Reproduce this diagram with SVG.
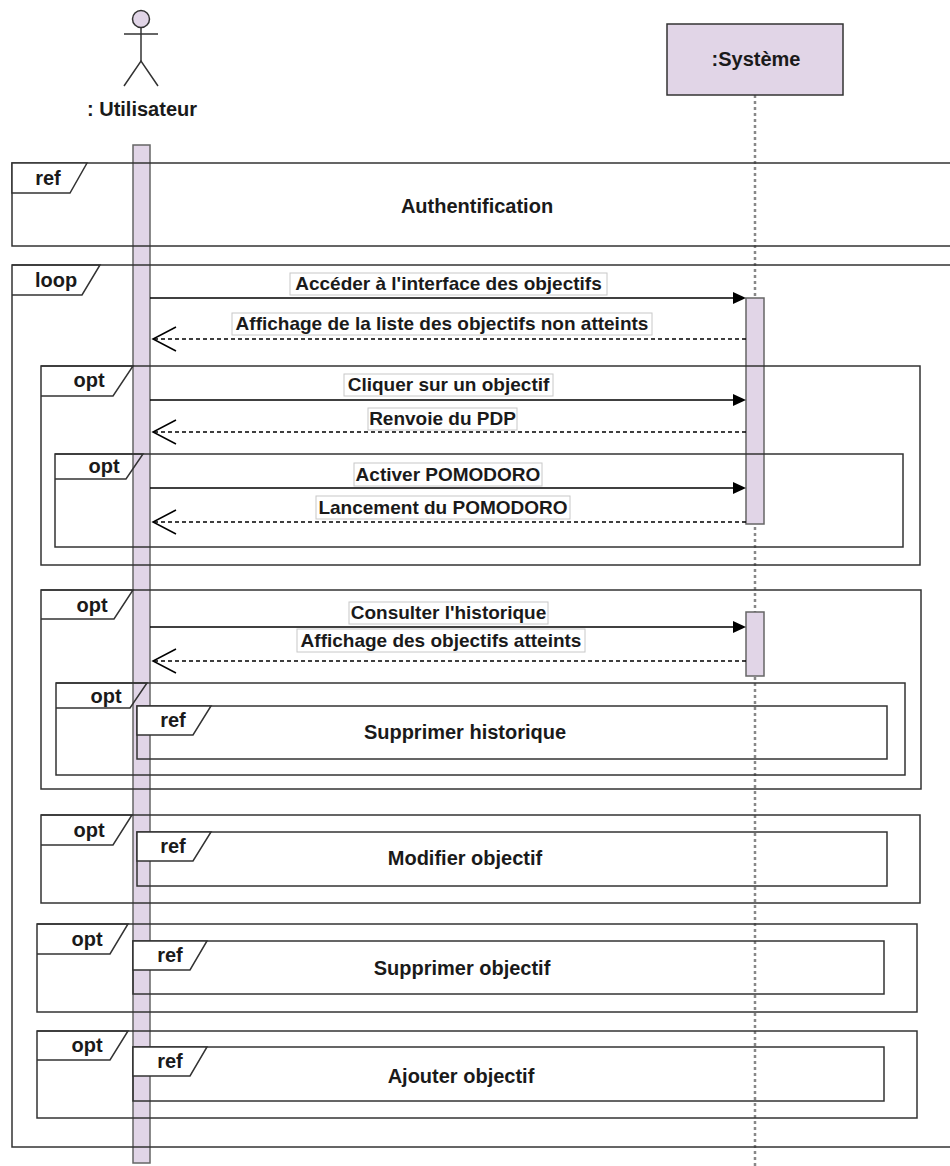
<svg xmlns="http://www.w3.org/2000/svg" width="950" height="1166" viewBox="0 0 950 1166">
<style>
text{font-family:"Liberation Sans",Arial,sans-serif;font-weight:bold;fill:#1a1a1a}
.msg{font-size:19px;text-anchor:middle}
.ttl{font-size:20px;text-anchor:middle}
.tag{font-size:20px;text-anchor:middle}
.frame{fill:none;stroke:#333;stroke-width:1.5}
.tagp{fill:none;stroke:#333;stroke-width:1.5}
.reftag{fill:#fff;stroke:#333;stroke-width:1.5}
.act{fill:#e1d5e7;stroke:#666;stroke-width:1.5}
.lbl{fill:#fff;stroke:#c8c8c8;stroke-width:1}
.call{stroke:#000;stroke-width:1.5;fill:none}
.ret{stroke:#000;stroke-width:1.5;fill:none;stroke-dasharray:4 3}
.open{stroke:#000;stroke-width:1.5;fill:none}
.head{fill:#000}
</style>
<rect width="950" height="1166" fill="#fff"/>

<g id="utilisateur">
  <circle cx="141" cy="19" r="8.5" fill="#e1d5e7" stroke="#333" stroke-width="1.5"/>
  <line x1="141" y1="27.5" x2="141" y2="61" stroke="#333" stroke-width="1.5"/>
  <line x1="124" y1="34" x2="158" y2="34" stroke="#333" stroke-width="1.5"/>
  <polyline points="124,86 141,61 158,86" fill="none" stroke="#333" stroke-width="1.5"/>
  <text x="142" y="116" class="ttl">: Utilisateur</text>
  <rect class="act" x="133" y="145" width="17" height="1018"/>
</g>

<g id="systeme">
  <line x1="755" y1="95" x2="755" y2="1166" stroke="#888" stroke-width="2.5" stroke-dasharray="3 3"/>
  <rect x="667" y="24" width="176" height="71" fill="#e1d5e7" stroke="#333" stroke-width="1.5"/>
  <text x="756" y="66" class="ttl">:Système</text>
  <rect class="act" x="746" y="298" width="18" height="226"/>
  <rect class="act" x="746" y="612" width="18" height="64"/>
</g>

<g id="ref-authentification">
  <rect class="frame" x="12" y="163" width="950" height="83"/>
  <path class="reftag" d="M12,163 H87 L70,193 H12 Z"/>
  <text x="48" y="185" class="tag">ref</text>
  <text x="477" y="213" class="ttl">Authentification</text>
</g>

<g id="loop">
  <rect class="frame" x="12" y="265" width="950" height="882" stroke="#444" stroke-width="2"/>
  <path class="tagp" d="M12,265 H100 L82,295 H12"/>
  <text x="56" y="287" class="tag">loop</text>
</g>

<g id="opt1">
  <rect class="frame" x="41" y="366" width="879" height="199"/>
  <path class="tagp" d="M41,366 H133 L113,396 H41"/>
  <text x="89" y="387" class="tag">opt</text>
</g>
<g id="opt2">
  <rect class="frame" x="55" y="454" width="848" height="93"/>
  <path class="tagp" d="M55,454 H143 L126,479 H55"/>
  <text x="104" y="473" class="tag">opt</text>
</g>
<g id="opt3">
  <rect class="frame" x="41" y="590" width="880" height="199"/>
  <path class="tagp" d="M41,590 H133 L114,619 H41"/>
  <text x="92" y="612" class="tag">opt</text>
</g>
<g id="opt4">
  <rect class="frame" x="56" y="683" width="849" height="92"/>
  <path class="tagp" d="M56,683 H147 L130,708 H56"/>
  <text x="106" y="703" class="tag">opt</text>
</g>
<g id="ref-supprimer-historique">
  <rect class="frame" x="137" y="706" width="750" height="53"/>
  <path class="reftag" d="M137,706 H211 L193,735 H137 Z"/>
  <text x="173" y="727" class="tag">ref</text>
  <text x="465" y="739" class="ttl">Supprimer historique</text>
</g>
<g id="opt5">
  <rect class="frame" x="41" y="815" width="879" height="88"/>
  <path class="tagp" d="M41,815 H132 L113,845 H41"/>
  <text x="89" y="837" class="tag">opt</text>
</g>
<g id="ref-modifier-objectif">
  <rect class="frame" x="137" y="832" width="750" height="54"/>
  <path class="reftag" d="M137,832 H211 L193,861 H137 Z"/>
  <text x="173" y="853" class="tag">ref</text>
  <text x="465" y="865" class="ttl">Modifier objectif</text>
</g>
<g id="opt6">
  <rect class="frame" x="37" y="924" width="880" height="88"/>
  <path class="tagp" d="M37,924 H128 L110,954 H37"/>
  <text x="87" y="946" class="tag">opt</text>
</g>
<g id="ref-supprimer-objectif">
  <rect class="frame" x="133" y="941" width="751" height="53"/>
  <path class="reftag" d="M133,941 H207 L190,970 H133 Z"/>
  <text x="170" y="962" class="tag">ref</text>
  <text x="462" y="975" class="ttl">Supprimer objectif</text>
</g>
<g id="opt7">
  <rect class="frame" x="37" y="1031" width="880" height="87"/>
  <path class="tagp" d="M37,1031 H128 L110,1060 H37"/>
  <text x="87" y="1052" class="tag">opt</text>
</g>
<g id="ref-ajouter-objectif">
  <rect class="frame" x="133" y="1047" width="751" height="54"/>
  <path class="reftag" d="M133,1047 H207 L190,1076 H133 Z"/>
  <text x="170" y="1068" class="tag">ref</text>
  <text x="461" y="1083" class="ttl">Ajouter objectif</text>
</g>

<g id="connectors">
  <line class="call" x1="150" y1="298" x2="735" y2="298"/>
  <polygon class="head" points="733,292 746,298 733,304"/>
  <rect class="lbl" x="290" y="273" width="317" height="22"/>
  <text x="448.5" y="290" class="msg">Accéder à l'interface des objectifs</text>

  <line class="ret" x1="746" y1="339" x2="154" y2="339"/>
  <polyline class="open" points="176,327 153,339 176,351"/>
  <rect class="lbl" x="232" y="313" width="420" height="22"/>
  <text x="442" y="330" class="msg">Affichage de la liste des objectifs non atteints</text>

  <line class="call" x1="150" y1="400" x2="735" y2="400"/>
  <polygon class="head" points="733,394 746,400 733,406"/>
  <rect class="lbl" x="344" y="374" width="209" height="22"/>
  <text x="448.5" y="391" class="msg">Cliquer sur un objectif</text>

  <line class="ret" x1="746" y1="432" x2="154" y2="432"/>
  <polyline class="open" points="176,420 153,432 176,444"/>
  <rect class="lbl" x="368" y="408" width="149" height="22"/>
  <text x="442.5" y="425" class="msg">Renvoie du PDP</text>

  <line class="call" x1="150" y1="488" x2="735" y2="488"/>
  <polygon class="head" points="733,482 746,488 733,494"/>
  <rect class="lbl" x="354" y="463" width="188" height="23"/>
  <text x="448" y="481" class="msg">Activer POMODORO</text>

  <line class="ret" x1="746" y1="522" x2="154" y2="522"/>
  <polyline class="open" points="176,510 153,522 176,534"/>
  <rect class="lbl" x="316" y="496" width="254" height="23"/>
  <text x="443" y="514" class="msg">Lancement du POMODORO</text>

  <line class="call" x1="150" y1="627" x2="735" y2="627"/>
  <polygon class="head" points="733,621 746,627 733,633"/>
  <rect class="lbl" x="349" y="602" width="199" height="22"/>
  <text x="448.5" y="619" class="msg">Consulter l'historique</text>

  <line class="ret" x1="746" y1="661" x2="154" y2="661"/>
  <polyline class="open" points="176,649 153,661 176,673"/>
  <rect class="lbl" x="297" y="629" width="288" height="23"/>
  <text x="441" y="647" class="msg">Affichage des objectifs atteints</text>
</g>
</svg>
